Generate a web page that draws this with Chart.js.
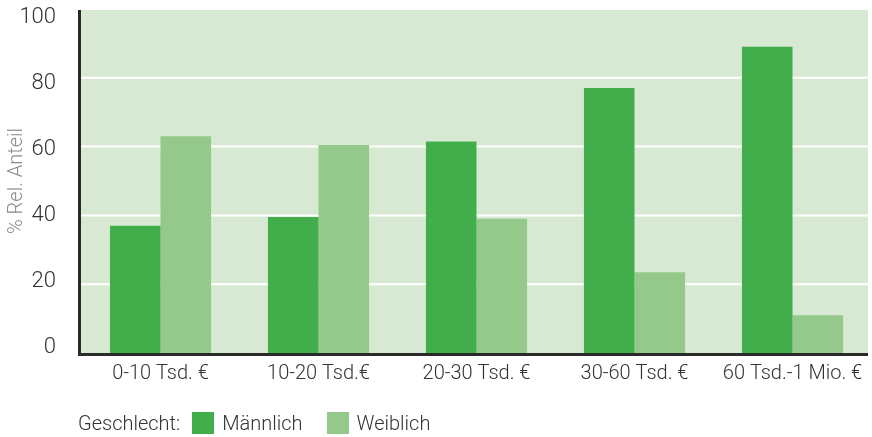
<!DOCTYPE html>
<html lang="de">
<head>
<meta charset="utf-8">
<title>Einkommen nach Geschlecht</title>
<script src="https://cdn.jsdelivr.net/npm/chart.js@4/dist/chart.umd.min.js"></script>
<style>
    html, body { margin: 0; padding: 0; background: #fff; }
    #wrap { position: relative; width: 872px; height: 437px; }
    #legende {
        position: absolute; left: 78px; top: 411px;
        display: flex; align-items: center;
        font-family: Roboto, sans-serif; font-weight: 300; font-size: 20px; color: #333;
    }
    #legende .box { width: 22px; height: 22px; margin: 0 8px 0 12px; }
    #legende .box.zweite { margin-left: 24px; }
</style>
</head>
<body>
<div id="wrap">
    <canvas id="graficaEinkommen"></canvas>
    <div id="legende"></div>
</div>
<script>
const kategorien = ['0-10 Tsd. €', '10-20 Tsd.€', '20-30 Tsd. €', '30-60 Tsd. €', '60 Tsd.-1 Mio. €'];
const maennlich = [37, 39.5, 61.5, 77, 89];
const weiblich = [63, 60.5, 39, 23.5, 11];
const yTicks = [0, 20, 40, 60, 80, 100];

const farbeM = '#42ae4b';
const farbeW = '#94c98b';
const hintergrund = '#d8e9d3';

// Hintergrund, weiße Gitterlinien und dunkle Achsen selbst zeichnen
const plotFlaeche = {
    id: 'plotFlaeche',
    beforeDatasetsDraw(chart) {
        const { ctx, chartArea, scales } = chart;
        const links = chartArea.left - 3.5;
        const rechts = chartArea.right - 3.5;
        ctx.save();
        ctx.fillStyle = hintergrund;
        ctx.fillRect(links, chartArea.top + 1, rechts - links, chartArea.bottom - chartArea.top);
        ctx.strokeStyle = '#ffffff';
        ctx.lineWidth = 2;
        yTicks.slice(1, -1).forEach(v => {
            const y = scales.y.getPixelForValue(v);
            ctx.beginPath();
            ctx.moveTo(links, y);
            ctx.lineTo(rechts, y);
            ctx.stroke();
        });
        ctx.restore();
    },
    afterDatasetsDraw(chart) {
        const { ctx, chartArea } = chart;
        const links = chartArea.left - 3.5;
        const rechts = chartArea.right - 3.5;
        ctx.save();
        ctx.strokeStyle = '#2a2a2a';
        ctx.lineWidth = 3;
        ctx.beginPath();
        ctx.moveTo(links + 1.5, chartArea.top + 1);
        ctx.lineTo(links + 1.5, chartArea.bottom + 2);
        ctx.moveTo(links, chartArea.bottom + 1.5);
        ctx.lineTo(rechts, chartArea.bottom + 1.5);
        ctx.stroke();
        ctx.restore();
    }
};

const ctx = document.getElementById('graficaEinkommen').getContext('2d');
const chart = new Chart(ctx, {
    type: 'bar',
    data: {
        labels: kategorien,
        datasets: [{
            label: 'Männlich',
            data: maennlich,
            backgroundColor: farbeM,
            borderWidth: 0
        }, {
            label: 'Weiblich',
            data: weiblich,
            backgroundColor: farbeW,
            borderWidth: 0
        }]
    },
    options: {
        responsive: true,
        maintainAspectRatio: false,
        animation: false,
        layout: { padding: { top: 9, right: 0.5, bottom: 50, left: 0 } },
        datasets: {
            bar: { categoryPercentage: 0.64, barPercentage: 1.0 }
        },
        scales: {
            x: {
                grid: { display: false },
                border: { display: false },
                ticks: {
                    padding: 1,
                    color: '#333',
                    maxRotation: 0,
                    font: { family: 'Roboto', weight: 300, size: 20 }
                }
            },
            // Datenachse, unsichtbar
            y: {
                display: false,
                min: 0,
                max: 100
            },
            // Beschriftungsachse links, etwas enger gesetzt als die Gitterlinien
            yBeschriftung: {
                position: 'left',
                min: -1.6,
                max: 102.6,
                grid: { display: false },
                border: { display: false },
                afterFit(scale) {
                    scale.width = 81.5;
                    scale.paddingTop = 0;
                    scale.paddingBottom = 0;
                },
                afterBuildTicks(scale) {
                    scale.ticks = yTicks.map(v => ({ value: v }));
                },
                ticks: {
                    padding: 17.5,
                    color: '#333',
                    font: { family: 'Roboto', weight: 300, size: 22 }
                },
                title: {
                    display: true,
                    text: '% Rel. Anteil',
                    color: '#8a8a8a',
                    padding: { top: 5, bottom: 0 },
                    font: { family: 'Roboto', weight: 300, size: 20 }
                }
            }
        },
        plugins: {
            legend: { display: false },
            tooltip: { enabled: false }
        }
    },
    plugins: [plotFlaeche]
});

// Legende unter dem Diagramm
const legende = document.getElementById('legende');
legende.innerHTML = '<span>Geschlecht:</span>' + chart.data.datasets.map((ds, i) =>
    `<span class="box${i ? ' zweite' : ''}" style="background:${ds.backgroundColor}"></span><span>${ds.label}</span>`
).join('');
</script>
</body>
</html>
